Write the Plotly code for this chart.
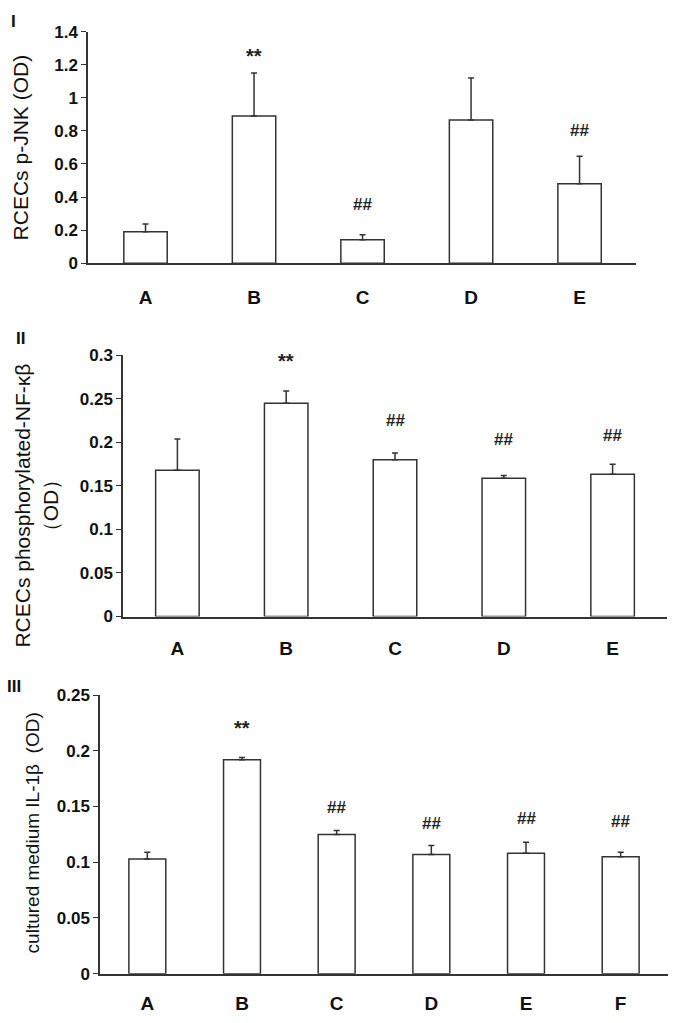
import plotly.graph_objects as go

# ---------------- data ----------------
cats_1 = ["A", "B", "C", "D", "E"]
mean_1 = [0.19, 0.89, 0.142, 0.866, 0.48]
err_1 = [0.047, 0.26, 0.03, 0.254, 0.167]
sig_1 = ["", "**", "##", "", "##"]
sig_y_1 = [None, 1.25, 0.356, None, 0.80]
ticks_1 = [0, 0.2, 0.4, 0.6, 0.8, 1, 1.2, 1.4]
ticktext_1 = ["0", "0.2", "0.4", "0.6", "0.8", "1", "1.2", "1.4"]

cats_2 = ["A", "B", "C", "D", "E"]
mean_2 = [0.168, 0.245, 0.180, 0.159, 0.1635]
err_2 = [0.036, 0.014, 0.008, 0.003, 0.0115]
sig_2 = ["", "**", "##", "##", "##"]
sig_y_2 = [None, 0.294, 0.2255, 0.203, 0.2075]
ticks_2 = [0, 0.05, 0.1, 0.15, 0.2, 0.25, 0.3]
ticktext_2 = ["0", "0.05", "0.1", "0.15", "0.2", "0.25", "0.3"]

cats_3 = ["A", "B", "C", "D", "E", "F"]
mean_3 = [0.103, 0.192, 0.125, 0.107, 0.108, 0.105]
err_3 = [0.006, 0.002, 0.0035, 0.008, 0.01, 0.004]
sig_3 = ["", "**", "##", "##", "##", "##"]
sig_y_3 = [None, 0.22, 0.149, 0.135, 0.139, 0.1364]
ticks_3 = [0, 0.05, 0.1, 0.15, 0.2, 0.25]
ticktext_3 = ["0", "0.05", "0.1", "0.15", "0.2", "0.25"]

W, H = 673, 1023
FONT = "Liberation Sans, Arial, sans-serif"
LINE = "#333333"


def px_x(p):
    return p / W


def px_y(p):
    return 1 - p / H


panels = [
    dict(cats=cats_1, mean=mean_1, err=err_1, sig=sig_1, sig_y=sig_y_1,
         ticks=ticks_1, ticktext=ticktext_1, xdom=[px_x(88), px_x(636)],
         ydom=[px_y(259), px_y(23)], xrange=[-0.53, 4.52], yrange=[0, 1.4],
         width=0.4, title="RCECs p-JNK (OD)", tsize=21, tx=px_x(20), ty=px_y(141),
         roman="I", rx=px_x(13), ry=px_y(13), standoff=16),
    dict(cats=cats_2, mean=mean_2, err=err_2, sig=sig_2, sig_y=sig_y_2,
         ticks=ticks_2, ticktext=ticktext_2, xdom=[px_x(123), px_x(667)],
         ydom=[px_y(619), px_y(353)], xrange=[-0.5, 4.5], yrange=[0, 0.3],
         width=0.4, title="RCECs phosphorylated-NF-κβ<br>（OD）", tsize=21,
         tx=px_x(36), ty=px_y(506),
         roman="II", rx=px_x(20), ry=px_y(336), standoff=14),
    dict(cats=cats_3, mean=mean_3, err=err_3, sig=sig_3, sig_y=sig_y_3,
         ticks=ticks_3, ticktext=ticktext_3, xdom=[px_x(100), px_x(668)],
         ydom=[px_y(983), px_y(699)], xrange=[-0.5, 5.5], yrange=[0, 0.25],
         width=0.39, title="cultured medium IL-1β  (OD)", tsize=19,
         tx=px_x(32), ty=px_y(840),
         roman="III", rx=px_x(14), ry=px_y(690), standoff=12),
]

fig = go.Figure()
annotations = []
layout = {}

for i, p in enumerate(panels, start=1):
    xa = "x" if i == 1 else f"x{i}"
    ya = "y" if i == 1 else f"y{i}"
    fig.add_trace(go.Bar(
        x=p["cats"], y=p["mean"], xaxis=xa, yaxis=ya, width=p["width"],
        marker=dict(color="white", line=dict(color=LINE, width=1.5)),
        error_y=dict(type="data", symmetric=False, array=p["err"],
                     arrayminus=[0] * len(p["err"]), color=LINE,
                     thickness=1.5, width=3),
        showlegend=False,
    ))
    xkey = "xaxis" if i == 1 else f"xaxis{i}"
    ykey = "yaxis" if i == 1 else f"yaxis{i}"
    layout[xkey] = dict(
        domain=p["xdom"], anchor=ya, range=p["xrange"], type="category",
        showline=True, linecolor=LINE, linewidth=1.5, ticks="",
        showgrid=False, zeroline=False, ticklabelstandoff=p["standoff"],
        tickfont=dict(family=FONT, size=19, color="#111111", weight="bold"),
    )
    layout[ykey] = dict(
        domain=p["ydom"], anchor=xa, range=p["yrange"],
        showline=True, linecolor=LINE, linewidth=1.5, ticks="outside",
        ticklen=5, tickwidth=1.2, tickcolor=LINE,
        tickvals=p["ticks"], ticktext=p["ticktext"],
        showgrid=False, zeroline=False,
        tickfont=dict(family=FONT, size=17, color="#111111", weight="bold"),
    )
    for c, s, sy in zip(p["cats"], p["sig"], p["sig_y"]):
        if s:
            big = s == "**"
            annotations.append(dict(
                x=c, y=sy, xref=xa, yref=ya, text=s, showarrow=False,
                font=dict(family=FONT, size=20 if big else 17,
                          color="#222222", weight="bold"),
            ))
    annotations.append(dict(
        x=p["tx"], y=p["ty"], xref="paper", yref="paper", text=p["title"],
        textangle=-90, showarrow=False, xanchor="center", yanchor="middle",
        font=dict(family=FONT, size=p["tsize"], color="#111111"),
    ))
    annotations.append(dict(
        x=p["rx"], y=p["ry"], xref="paper", yref="paper", text=p["roman"],
        showarrow=False, xanchor="center", yanchor="middle",
        font=dict(family=FONT, size=17, color="#111111", weight="bold"),
    ))

fig.update_layout(
    width=W, height=H, margin=dict(l=0, r=0, t=0, b=0),
    paper_bgcolor="white", plot_bgcolor="white",
    annotations=annotations, **layout,
)

fig.write_html(
    "out.html",
    config={"responsive": False, "displayModeBar": False},
    post_script=(
        "document.body.style.margin='0';"
        "document.body.style.overflow='hidden';"
        "Plotly.Plots.resize(document.getElementById('{plot_id}'));"
    ),
)
